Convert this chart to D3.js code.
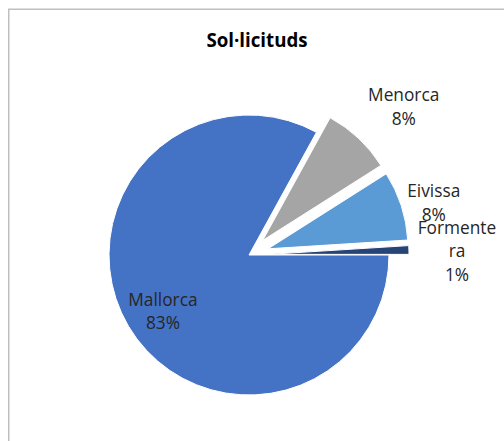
<!DOCTYPE html>
<html>
<head>
<meta charset="utf-8">
<script src="https://cdn.jsdelivr.net/npm/d3@7"></script>
<style>
  html, body { margin: 0; padding: 0; background: #fff; }
  svg { display: block; font-family: "Open Sans", "Noto Sans", sans-serif; }
</style>
</head>
<body>
<svg id="chart" width="504" height="441"></svg>
<script>
const categories = ["Mallorca", "Menorca", "Eivissa", "Formentera"];
const values = [83, 8, 8, 1];
const labelNames = [["Mallorca"], ["Menorca"], ["Eivissa"], ["Formente", "ra"]];
const colors = ["#4472C4", "#A5A5A5", "#5B9BD5", "#264478"];

const svg = d3.select("#chart");
const W = 504, H = 441;

// chart area border (cut off at right and bottom)
svg.append("rect")
    .attr("x", 8.75).attr("y", 9.25)
    .attr("width", 540).attr("height", 480)
    .attr("fill", "#fff")
    .attr("stroke", "#BFBFBF")
    .attr("stroke-width", 1.5);

svg.append("text")
    .attr("x", 257).attr("y", 47)
    .attr("text-anchor", "middle")
    .attr("font-weight", "bold")
    .attr("font-size", 18.7)
    .attr("fill", "#000")
    .text("Sol·licituds");

const cx = 249, cy = 255, r = 140;
const explode = [0, 20, 20, 20];
// label placement: distance from centre, angle tweak (deg)
const labelPos = [[103, -2.7], [214, 3.1], [192, 2.2], [208, 0.8]];

const pie = d3.pie().sort(null)
    .startAngle(Math.PI / 2)
    .endAngle(Math.PI / 2 + 2 * Math.PI);
const arc = d3.arc().innerRadius(0).outerRadius(r);
const total = d3.sum(values);
const pct = d3.format(".0%");

const slices = pie(values);
const g = svg.append("g").attr("transform", `translate(${cx},${cy})`);

g.selectAll("path")
    .data(slices)
    .join("path")
    .attr("d", arc)
    .attr("fill", (d, i) => colors[i])
    .attr("stroke", "#fff")
    .attr("stroke-width", 1)
    .attr("transform", (d, i) => {
        const a = (d.startAngle + d.endAngle) / 2;
        return `translate(${explode[i] * Math.sin(a)},${-explode[i] * Math.cos(a)})`;
    });

const fs = 17.3, lh = 23.5;
slices.forEach((d, i) => {
    const a = (d.startAngle + d.endAngle) / 2 + labelPos[i][1] * Math.PI / 180;
    const x = labelPos[i][0] * Math.sin(a);
    const y = -labelPos[i][0] * Math.cos(a);
    const lines = labelNames[i].concat([pct(values[i] / total)]);
    const t = g.append("text")
        .attr("text-anchor", "middle")
        .attr("font-size", fs)
        .attr("fill", "#262626");
    lines.forEach((s, k) => {
        t.append("tspan")
            .attr("x", x)
            .attr("y", y - (lines.length - 1) * lh / 2 + k * lh + 0.35 * fs)
            .text(s);
    });
});
</script>
</body>
</html>
